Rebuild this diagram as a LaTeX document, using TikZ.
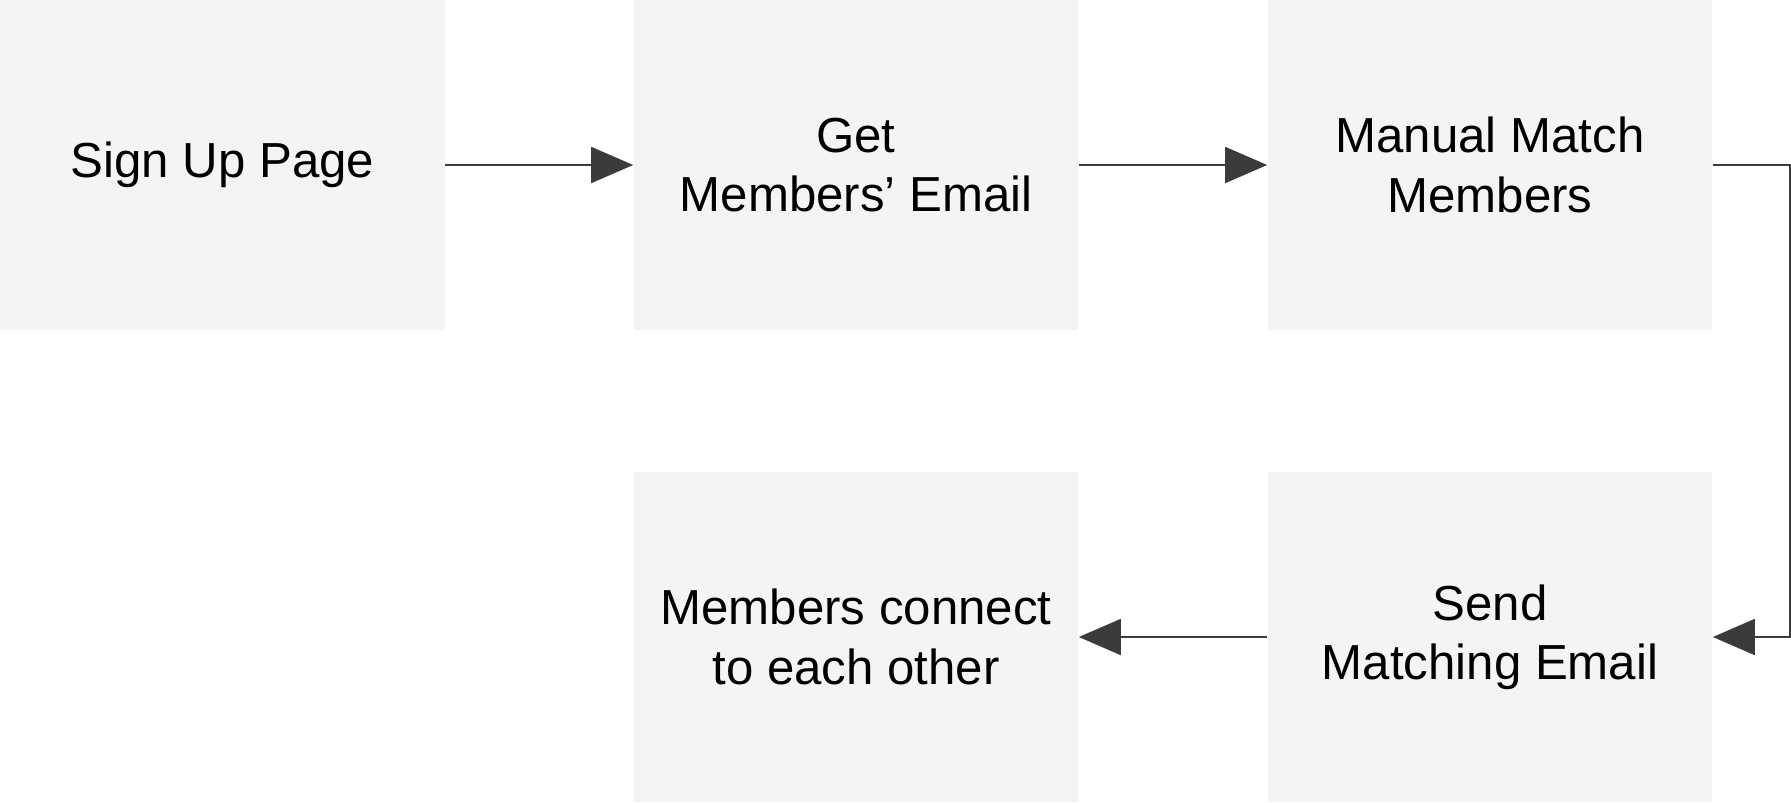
\documentclass[tikz,border=0pt]{standalone}
\usepackage{fontspec}
\setmainfont{Liberation Sans}
\usetikzlibrary{arrows.meta}
\definecolor{boxgray}{HTML}{F4F4F4}
\definecolor{linegray}{HTML}{3D3A3A}
\begin{document}
\begin{tikzpicture}[x=0.02cm, y=0.02cm,
    stepbox/.style={fill=boxgray, rectangle, minimum width=8.9cm, minimum height=6.6cm, inner sep=0pt, align=center, font=\fontsize{28}{33.8}\selectfont},
    flow/.style={-{Triangle[length=0.84cm, width=0.72cm]}, draw=linegray, line width=1pt}]
    \useasboundingbox (0,0) rectangle (1791,-802);

    %Place sign-up node
    \node[stepbox] (signup) at (222.5,-165) {Sign Up Page};

    %Place get-email node
    \node[stepbox] (getemail) at (856,-165) {Get\\Members’ Email};

    %Place manual-match node
    \node[stepbox] (match) at (1490,-165) {Manual Match\\Members};

    %Place send-email node
    \node[stepbox] (send) at (1490,-637) {Send\\Matching Email};

    %Place connect node
    \node[stepbox] (connect) at (856,-637) {Members connect\\to each other};

    %Turning point on the right
    \coordinate (turn) at (1790,-165);

    %Draw arrows
    \draw[flow] (signup.east) -- (getemail.west);
    \draw[flow] (getemail.east) -- (match.west);
    \draw[flow] (match.east) -- (turn) |- (send.east);
    \draw[flow] (send.west) -- (connect.east);
\end{tikzpicture}
\end{document}
